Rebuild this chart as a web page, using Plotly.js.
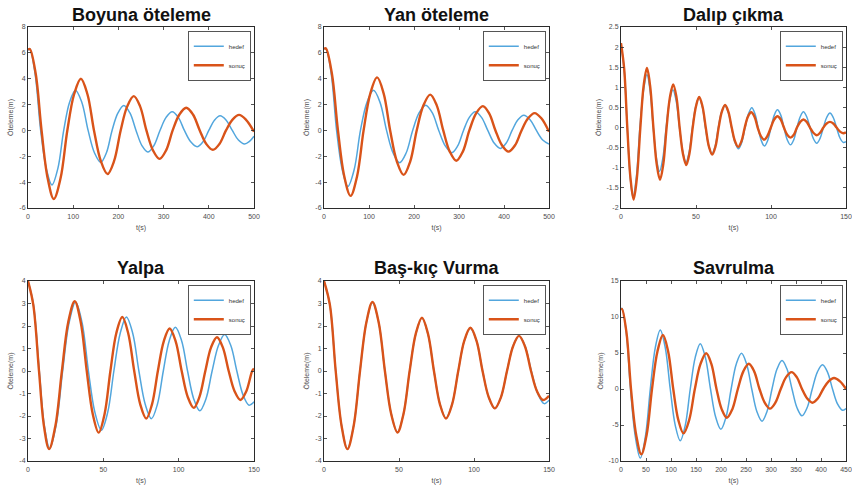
<!DOCTYPE html>
<html>
<head>
<meta charset="utf-8">
<script src="https://cdn.plot.ly/plotly-3.0.1.min.js"></script>
<style>html,body{margin:0;padding:0;background:#fff;}#chart{width:852px;height:487px;}</style>
</head>
<body>
<div id="chart"></div>
<script>
// ---- Data ----
const titles = ["Boyuna öteleme", "Yan öteleme", "Dalıp çıkma", "Yalpa", "Baş-kıç Vurma", "Savrulma"];
const seriesNames = ["hedef", "sonuç"];
const xLabel = "t(s)";
const yLabel = "Öteleme(m)";

// Boyuna öteleme
const boyunaT_hedef = [0,4,16,28,40.5,53,66,79,92,105,119,133,147,161,173.5,186,199,212,225.5,239,252,265,278.5,292,305.5,319,332.5,346,360,374,387,400,412.5,425,438.5,452,465.5,479,490,500];
const boyunaY_hedef = [6.2,6.3,4.3,0,-2.95,-4.22,-2.95,0,2.18,3.11,2.18,0,-1.73,-2.47,-1.73,0,1.35,1.93,1.35,0,-1.17,-1.67,-1.17,0,1.01,1.44,1.01,0,-0.88,-1.26,-0.88,0,0.79,1.13,0.79,0,-0.74,-1.05,-0.85,-0.45];
const boyunaT_sonuc = [0,4,17,30,43.5,57,72,87,102,117,131.5,146,161,176,190.5,205,219.5,234,248,262,276.5,291,305.5,320,335,350,365,380,394.5,409,423.5,438,452.5,467,482,500];
const boyunaY_sonuc = [6.25,6.3,4.4,0,-3.7,-5.3,-3.7,0,2.8,4.0,2.8,0,-2.36,-3.37,-2.36,0,1.86,2.65,1.86,0,-1.54,-2.2,-1.54,0,1.23,1.75,1.23,0,-1.05,-1.5,-1.05,0,0.84,1.2,0.84,-0.1];

// Yan öteleme
const yanT_hedef = [0,4,16,28,40.5,53,67,81,95.5,110,124.5,139,153.5,168,182.5,197,211.5,226,240.5,255,269.5,284,297,310,323,336,350,364,378,392,405,418,431,444,458,472,486,500];
const yanY_hedef = [6.3,6.35,4.4,0,-3.04,-4.34,-3.04,0,2.17,3.1,2.17,0,-1.75,-2.5,-1.75,0,1.37,1.95,1.37,0,-1.2,-1.72,-1.2,0,1.01,1.44,1.01,0,-0.97,-1.39,-0.97,0,0.83,1.18,0.83,0,-0.74,-1.05];
const yanT_sonuc = [0,4,17.5,31,45,59,73.5,88,103,118,132.5,147,162,177,191.5,206,221,236,250.5,265,279.5,294,308.5,323,338,353,367,381,395.5,410,424.5,439,453.5,468,483,500];
const yanY_sonuc = [6.3,6.35,4.4,0,-3.54,-5.06,-3.54,0,2.87,4.1,2.87,0,-2.41,-3.44,-2.41,0,1.94,2.77,1.94,0,-1.64,-2.34,-1.64,0,1.32,1.88,1.32,0,-1.15,-1.64,-1.15,0,0.94,1.34,0.94,-0.1];

// Dalıp çıkma
const dalipT_hedef = [0,2.1,4.2,6.1,8,10.3,12.6,15,17.3,19.4,21.5,23.6,25.7,27.9,30.1,32.4,34.6,36.8,39,41.2,43.3,45.5,47.6,49.8,52,54.2,56.3,58.5,60.6,62.8,64.9,67,69.2,71.5,73.7,76,78.3,80.5,82.7,85,87.2,89.3,91.4,93.5,95.6,97.8,100,102.2,104.3,106.5,108.6,110.8,113,115.2,117.3,119.5,121.6,123.8,126,128.2,130.5,132.7,134.9,137.1,139.3,141.5,143.7,146,148.2,150];
const dalipY_hedef = [2.07,1.45,0,-1.21,-1.73,-1.21,0,0.92,1.32,0.92,0,-0.76,-1.09,-0.76,0,0.66,0.94,0.66,0,-0.6,-0.86,-0.6,0,0.52,0.74,0.52,0,-0.46,-0.65,-0.46,0,0.38,0.54,0.38,0,-0.37,-0.53,-0.37,0,0.34,0.49,0.34,0,-0.32,-0.46,-0.32,0,0.31,0.44,0.31,0,-0.3,-0.43,-0.3,0,0.27,0.39,0.27,0,-0.27,-0.39,-0.27,0,0.25,0.36,0.25,0,-0.26,-0.37,-0.35];
const dalipT_sonuc = [0,2.1,4.2,6.3,8.4,10.6,12.9,15.1,17.3,19.4,21.6,23.8,26,28.2,30.4,32.6,34.8,37,39.1,41.3,43.5,45.6,47.8,50,52.1,54.3,56.5,58.6,60.8,63,65.1,67.2,69.4,71.6,73.8,76,78.1,80.3,82.5,84.6,86.8,89,91.1,93.2,95.4,97.6,99.9,102.1,104.3,106.5,108.6,110.8,113,115.2,117.3,119.5,121.6,123.8,126,128.2,130.5,132.7,134.9,137.1,139.3,141.5,143.7,146,148.2,150];
const dalipY_sonuc = [2.1,1.47,0,-1.25,-1.79,-1.25,0,1.04,1.48,1.04,0,-0.91,-1.3,-0.91,0,0.75,1.07,0.75,0,-0.65,-0.93,-0.65,0,0.53,0.76,0.53,0,-0.47,-0.67,-0.47,0,0.39,0.56,0.39,0,-0.34,-0.48,-0.34,0,0.27,0.38,0.27,0,-0.21,-0.3,-0.21,0,0.2,0.28,0.2,0,-0.18,-0.25,-0.18,0,0.14,0.2,0.14,0,-0.13,-0.19,-0.13,0,0.1,0.14,0.1,0,-0.1,-0.14,-0.12];

// Yalpa
const yalpaT_hedef = [0,3.6,7.5,10.9,14.4,18.7,23,27.3,31.6,35.9,40.1,44.4,48.7,52.9,57,61.2,65.3,69.5,73.6,77.8,81.9,85.9,89.8,93.8,97.8,101.9,105.9,110,114,118.1,122.2,126.4,130.5,134.6,138.6,142.7,146.7,150];
const yalpaY_hedef = [4.0,2.95,0,-2.45,-3.44,-2.4,0,2.15,3.07,2.15,0,-1.84,-2.63,-1.84,0,1.68,2.4,1.68,0,-1.48,-2.12,-1.48,0,1.36,1.94,1.36,0,-1.24,-1.77,-1.24,0,1.13,1.62,1.13,0,-1.06,-1.52,-1.37];
const yalpaT_sonuc = [0,3.5,7.3,10.6,14,18.2,22.5,26.7,31,35,39,43,46.9,50.8,54.7,58.6,62.6,66.5,70.5,74.5,78.5,82.3,86.2,90.1,94,98,102,106,110,113.8,117.7,121.5,125.4,129.3,133.2,137.1,141,144.9,148.8,150];
const yalpaY_sonuc = [4.0,2.95,0,-2.45,-3.47,-2.43,0,2.17,3.1,2.17,0,-1.92,-2.74,-1.92,0,1.68,2.4,1.68,0,-1.48,-2.11,-1.48,0,1.32,1.89,1.32,0,-1.15,-1.64,-1.15,0,1.05,1.5,1.05,0,-0.9,-1.29,-0.9,0,0.11];

// Baş-kıç Vurma
const basT_hedef = [0,3.9,7.8,11.7,15.6,19.8,24,28.2,32.3,36.5,40.6,44.8,49,53,57.1,61.2,65.3,69.3,73.3,77.3,81.3,85.4,89.5,93.5,97.6,101.7,105.7,109.8,113.9,118,122,126,130,134.1,138.2,142.5,146.8,150];
const basY_hedef = [4.0,2.95,0,-2.42,-3.46,-2.42,0,2.14,3.05,2.14,0,-1.9,-2.72,-1.9,0,1.65,2.36,1.65,0,-1.47,-2.1,-1.47,0,1.33,1.9,1.33,0,-1.17,-1.67,-1.17,0,1.1,1.57,1.1,0,-1.0,-1.45,-1.3];
const basT_sonuc = [0,3.9,7.8,11.7,15.6,19.8,24,28.2,32.3,36.5,40.6,44.8,49,53,57.1,61.2,65.3,69.3,73.3,77.3,81.3,85.4,89.5,93.5,97.6,101.7,105.7,109.8,113.9,118,122,126,130,134,138,142,146,150];
const basY_sonuc = [4.0,2.95,0,-2.43,-3.47,-2.43,0,2.15,3.07,2.15,0,-1.91,-2.73,-1.91,0,1.66,2.37,1.66,0,-1.48,-2.11,-1.48,0,1.34,1.92,1.34,0,-1.16,-1.66,-1.16,0,1.09,1.56,1.09,0,-0.9,-1.29,-1.1];

// Savrulma
const savT_hedef = [0,2,10.5,19,28.8,38.6,48.6,58.6,68.6,78.6,88.5,98.5,108.5,118.5,128.5,138.5,148.5,158.5,168.7,179,189.3,199.7,210,220.3,230.6,241,251.2,261.5,271.7,282,292,302,312,322,332,342,352,362,372.2,382.5,392.7,403,413,423,433,443,450];
const savY_hedef = [11.1,11.2,7.9,0,-6.7,-9.6,-6.7,0,5.75,8.2,5.75,0,-5.05,-7.2,-5.05,0,4.4,6.3,4.4,0,-3.9,-5.6,-3.9,0,3.48,4.97,3.48,0,-3.13,-4.47,-3.13,0,2.77,3.96,2.77,0,-2.61,-3.73,-2.61,0,2.35,3.36,2.35,0,-2.07,-2.95,-2.7];
const savT_sonuc = [0,2,11,20,30.3,40.6,51.3,62,73,83.9,94.2,104.5,114.7,125,136.3,147.7,159,170.4,180.7,191,201.3,211.7,222.7,233.7,244.7,255.7,266.3,277,287.5,298,308.7,319.5,330.2,341,351.5,362,372.4,382.8,393.6,404.4,415.2,426,438,450];
const savY_sonuc = [11.0,11.1,7.8,0,-6.35,-9.07,-6.35,0,5.25,7.5,5.25,0,-4.32,-6.17,-4.32,0,3.48,4.97,3.48,0,-2.8,-4.0,-2.8,0,2.45,3.5,2.45,0,-1.9,-2.72,-1.9,0,1.65,2.35,1.65,0,-1.33,-1.9,-1.33,0,1.06,1.52,1.06,0];

const xRanges = [[0, 500], [0, 500], [0, 150], [0, 150], [0, 150], [0, 450]];
const yRanges = [[-6, 8], [-6, 8], [-2, 2.5], [-4, 4], [-4, 4], [-10, 15]];
const xTicks = [[0,100,200,300,400,500],[0,100,200,300,400,500],[0,50,100,150],[0,50,100,150],[0,50,100,150],[0,50,100,150,200,250,300,350,400,450]];
const yTicks = [[-6,-4,-2,0,2,4,6,8],[-6,-4,-2,0,2,4,6,8],[-2,-1.5,-1,-0.5,0,0.5,1,1.5,2,2.5],[-4,-3,-2,-1,0,1,2,3,4],[-4,-3,-2,-1,0,1,2,3,4],[-10,-5,0,5,10,15]];

const hedefData = [[boyunaT_hedef, boyunaY_hedef],[yanT_hedef, yanY_hedef],[dalipT_hedef, dalipY_hedef],[yalpaT_hedef, yalpaY_hedef],[basT_hedef, basY_hedef],[savT_hedef, savY_hedef]];
const sonucData = [[boyunaT_sonuc, boyunaY_sonuc],[yanT_sonuc, yanY_sonuc],[dalipT_sonuc, dalipY_sonuc],[yalpaT_sonuc, yalpaY_sonuc],[basT_sonuc, basY_sonuc],[savT_sonuc, savY_sonuc]];

// ---- Layout geometry (pixels in a 852x487 figure) ----
const W = 852, H = 487;
const colPx = [[28, 254], [324, 549], [621, 846]];
const rowPx = [[27, 208], [281, 461]];
const titleYpx = [15, 268];
const legendTopPx = [31, 285];

const BLUE = "#52a6dd";
const ORANGE = "#d95319";
const FONT = "Liberation Sans, Arial, sans-serif";

const traces = [];
const layout = {
  width: W, height: H,
  margin: {l: 0, r: 0, t: 0, b: 0},
  paper_bgcolor: "#ffffff",
  plot_bgcolor: "#ffffff",
  font: {family: FONT, size: 7, color: "#444"},
  annotations: [],
  showlegend: true
};

for (let i = 0; i < 6; i++) {
  const r = Math.floor(i / 3), c = i % 3;
  const n = i + 1;
  const sfx = n === 1 ? "" : String(n);
  const xa = "xaxis" + sfx, ya = "yaxis" + sfx;
  const xr = "x" + sfx, yr = "y" + sfx;
  const lg = "legend" + sfx;
  const xd = [colPx[c][0] / W, colPx[c][1] / W];
  const yd = [1 - rowPx[r][1] / H, 1 - rowPx[r][0] / H];

  const axCommon = {
    showline: true, linecolor: "#2b2b2b", linewidth: 1, mirror: "allticks",
    ticks: "inside", ticklen: 3, tickwidth: 0.8, tickcolor: "#2b2b2b",
    showgrid: false, zeroline: false, fixedrange: true,
    tickfont: {family: FONT, size: 7, color: "#4d4d4d"}
  };
  layout[xa] = Object.assign({}, axCommon, {
    domain: xd, anchor: yr, range: xRanges[i], tickmode: "array", tickvals: xTicks[i],
    ticktext: xTicks[i].map(String), ticklabelstandoff: 2,
    title: {text: xLabel, font: {family: FONT, size: 7, color: "#4d4d4d"}, standoff: 5}
  });
  layout[ya] = Object.assign({}, axCommon, {
    domain: yd, anchor: xr, range: yRanges[i], tickmode: "array", tickvals: yTicks[i],
    ticktext: yTicks[i].map(String),
    title: {text: yLabel, font: {family: FONT, size: 7, color: "#4d4d4d"}, standoff: 4}
  });

  traces.push({
    type: "scatter", mode: "lines", name: seriesNames[0],
    x: hedefData[i][0], y: hedefData[i][1], xaxis: xr, yaxis: yr, legend: lg,
    line: {color: BLUE, width: 1.5, shape: "spline", smoothing: 1}
  });
  traces.push({
    type: "scatter", mode: "lines", name: seriesNames[1],
    x: sonucData[i][0], y: sonucData[i][1], xaxis: xr, yaxis: yr, legend: lg,
    line: {color: ORANGE, width: 2.4, shape: "spline", smoothing: 1}
  });

  layout[lg] = {
    x: (colPx[c][1] - 3) / W, xanchor: "right",
    y: 1 - legendTopPx[r] / H, yanchor: "top",
    bgcolor: "#ffffff", bordercolor: "#2b2b2b", borderwidth: 0.8,
    font: {family: FONT, size: 6, color: "#333"},
    itemwidth: 30, tracegroupgap: 0, traceorder: "normal"
  };

  layout.annotations.push({
    xref: "paper", yref: "paper",
    x: (colPx[c][0] + colPx[c][1]) / 2 / W, y: 1 - titleYpx[r] / H,
    xanchor: "center", yanchor: "middle", showarrow: false,
    text: "<b>" + titles[i] + "</b>",
    font: {family: FONT, size: 18, color: "#111"}
  });
}

Plotly.newPlot("chart", traces, layout, {staticPlot: true, displayModeBar: false});
</script>
</body>
</html>
